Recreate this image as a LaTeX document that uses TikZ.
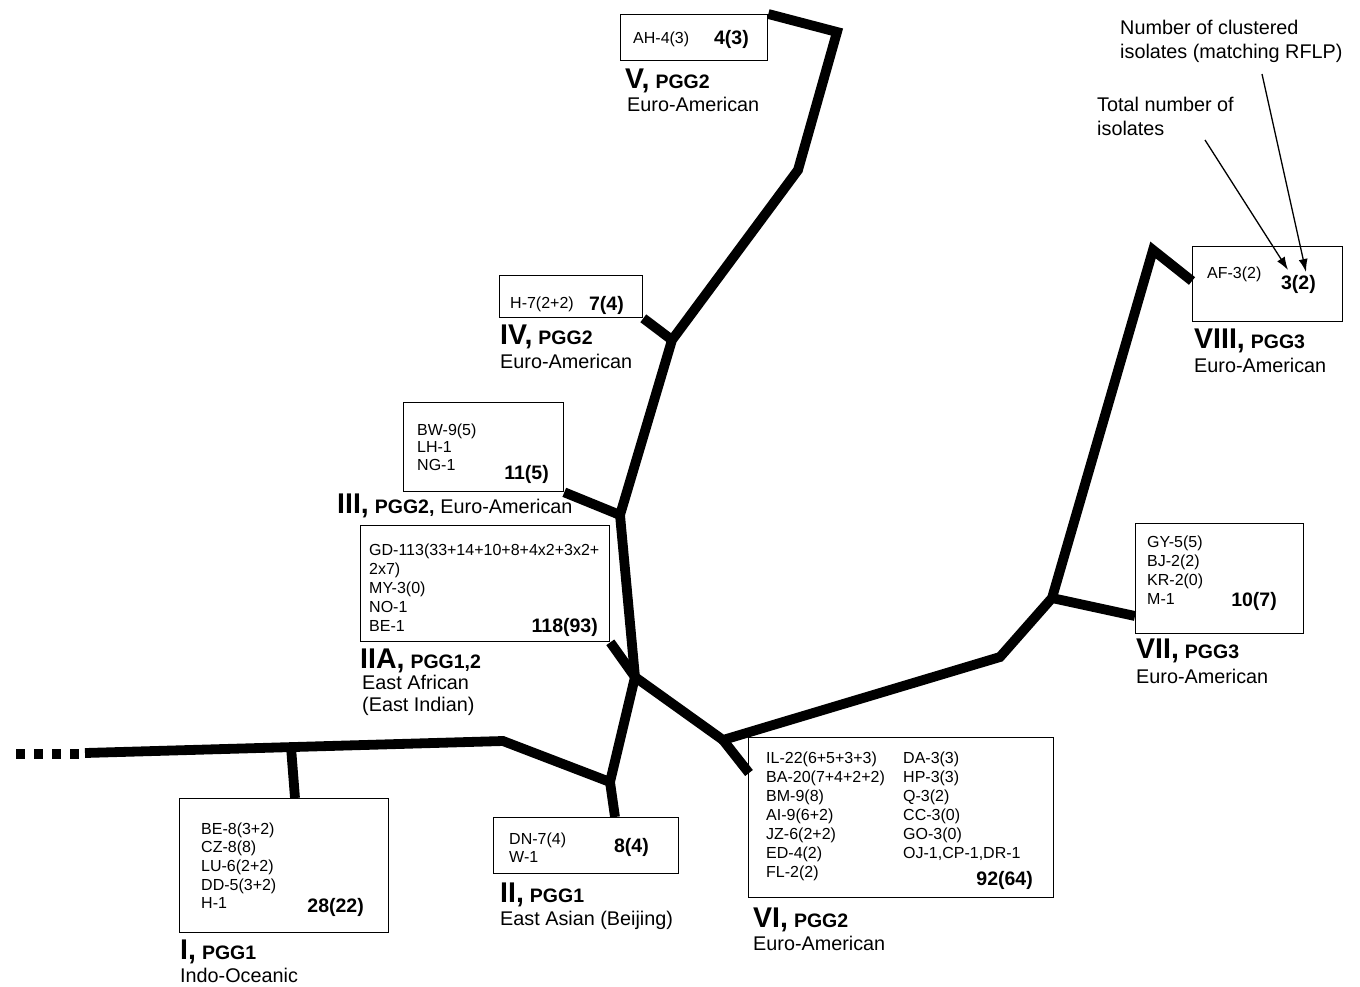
\documentclass[tikz,border=0pt]{standalone}
\usepackage{fontspec}
\setmainfont{Liberation Sans}
\usetikzlibrary{arrows.meta}
\newcommand\rnum[1]{{\fontsize{28.5}{30}\selectfont\bfseries #1}\hspace{6pt}}
\newcommand\pggx[1]{{\fontsize{19.5}{22}\selectfont\bfseries #1}}
\begin{document}
\begin{tikzpicture}[x=1pt,y=-1pt,
  tree/.style={line width=9.8pt, line cap=butt, line join=miter},
  box/.style={draw, line width=1.3pt, rectangle, inner sep=0pt, anchor=north west},
  small/.style={font=\fontsize{16}{19}\selectfont, anchor=base west, inner sep=0pt},
  tot/.style={font=\fontsize{19.5}{22}\selectfont\bfseries, anchor=base east, inner sep=0pt},
  lab/.style={anchor=base west, inner sep=0pt},
  sub/.style={font=\fontsize{19.8}{22}\selectfont, anchor=base west, inner sep=0pt},
  ann/.style={font=\fontsize{19.8}{24}\selectfont, anchor=base west, inner sep=0pt},
  pointer/.style={line width=1.3pt, -{Latex[length=13pt,width=9pt]}}]
\useasboundingbox (0,0) rectangle (1360,986);

% ---------- boxes ----------
\node[box, minimum width=147pt, minimum height=46pt] (bV) at (620,14) {};
\node[box, minimum width=143pt, minimum height=42pt] (bIV) at (499,275) {};
\node[box, minimum width=160pt, minimum height=89pt] (bIII) at (403,402) {};
\node[box, minimum width=249pt, minimum height=116pt] (bIIA) at (360,525) {};
\node[box, minimum width=209pt, minimum height=134pt] (bI) at (179,798) {};
\node[box, minimum width=185pt, minimum height=56pt] (bII) at (493,817) {};
\node[box, minimum width=305pt, minimum height=160pt] (bVI) at (748,737) {};
\node[box, minimum width=168pt, minimum height=110pt] (bVII) at (1135,523) {};
\node[box, minimum width=150pt, minimum height=75pt] (bVIII) at (1192,246) {};

% ---------- tree coordinates ----------
\coordinate (r0) at (16,754);
\coordinate (r0e) at (80,754);
\coordinate (r1) at (85,753);
\coordinate (k1) at (503,741);
\coordinate (jI) at (291,747);
\coordinate (jII) at (610,782);
\coordinate (jA) at (635,677);
\coordinate (jB) at (620,515);
\coordinate (jC) at (672,340);
\coordinate (k2) at (798,170);
\coordinate (k3) at (837,32);
\coordinate (jD) at (723,740);
\coordinate (k4) at (1000,657);
\coordinate (jE) at (1052,598);
\coordinate (k5) at (1153,250);
\coordinate (eI) at (295,798);
\coordinate (eII) at (615,817);
\coordinate (eVI) at (749,773);
\coordinate (eVII) at (1135,616);
\coordinate (eVIII) at (1192,281);

\draw[tree, dash pattern=on 9pt off 9pt] (r0) -- (r0e);
\draw[tree] (r1) -- (k1) -- (jII) -- (jA) -- (jB) -- (jC) -- (k2) -- (k3) -- (bV.north east);
\draw[tree] (jA) -- (jD) -- (k4) -- (jE) -- (k5) -- (eVIII);
\draw[tree] (jI) -- (eI);
\draw[tree] (jII) -- (eII);
\draw[tree] (jA) -- (bIIA.south east);
\draw[tree] (jB) -- (bIII.south east);
\draw[tree] (jC) -- (bIV.south east);
\draw[tree] (jD) -- (eVI);
\draw[tree] (jE) -- (eVII);
\foreach \j in {jII,jA,jB,jC,jD,jE}
  \fill (\j) circle (4.9pt);

% ---------- box contents ----------
\node[small] (tV) at (633,43) {AH-4(3)};
\node[tot] (nV) at (749,44) {4(3)};

\node[small] (tIV) at (510,308) {H-7(2+2)};
\node[tot] (nIV) at (624,310) {7(4)};

\foreach \t [count=\i] in {BW-9(5),LH-1,NG-1}
  \node[small, name=tIII\i] at (417,{435+(\i-1)*17.8}) {\t};
\node[tot] (nIII) at (549,479) {11(5)};

\foreach \t [count=\i] in {GD-113(33+14+10+8+4x2+3x2+,2x7),MY-3(0),NO-1,BE-1}
  \node[small, name=tIIA\i] at (369,{555+(\i-1)*19.2}) {\t};
\node[tot] (nIIA) at (598,632) {118(93)};

\foreach \t [count=\i] in {BE-8(3+2),CZ-8(8),LU-6(2+2),DD-5(3+2),H-1}
  \node[small, name=tI\i] at (201,{834+(\i-1)*18.7}) {\t};
\node[tot] (nI) at (364,912) {28(22)};

\node[small] (tII1) at (509,844) {DN-7(4)};
\node[small] (tII2) at (509,862) {W-1};
\node[tot] (nII) at (649,852) {8(4)};

\foreach \t [count=\i] in {IL-22(6+5+3+3),BA-20(7+4+2+2),BM-9(8),AI-9(6+2),JZ-6(2+2),ED-4(2),FL-2(2)}
  \node[small, name=tVIa\i] at (766,{763+(\i-1)*19}) {\t};
\foreach \t [count=\i] in {DA-3(3),HP-3(3),Q-3(2),CC-3(0),GO-3(0),{OJ-1,CP-1,DR-1}}
  \node[small, name=tVIb\i] at (903,{763+(\i-1)*19}) {\t};
\node[tot] (nVI) at (1033,885) {92(64)};

\foreach \t [count=\i] in {GY-5(5),BJ-2(2),KR-2(0),M-1}
  \node[small, name=tVII\i] at (1147,{547+(\i-1)*19}) {\t};
\node[tot] (nVII) at (1277,606) {10(7)};

\node[small] (tVIII) at (1207,278) {AF-3(2)};
\node[tot] (nVIII) at (1316,289) {3(2)};

% ---------- group labels ----------
\node[lab] (lV) at (625,88) {\rnum{V,}\pggx{PGG2}};
\node[sub] (sV) at (627,111) {Euro-American};
\node[lab] (lIV) at (500,344) {\rnum{IV,}\pggx{PGG2}};
\node[sub] (sIV) at (500,368) {Euro-American};
\node[lab] (lIII) at (337,513) {\rnum{III,}\pggx{PGG2,}\hspace{6pt}{\fontsize{19.8}{22}\selectfont Euro-American}};
\node[lab] (lIIA) at (360,668) {\rnum{IIA,}\pggx{PGG1,2}};
\node[sub] (sIIA1) at (362,689) {East African};
\node[sub] (sIIA2) at (362,711) {(East Indian)};
\node[lab] (lI) at (180,959) {\rnum{I,}\pggx{PGG1}};
\node[sub] (sI) at (180,982) {Indo-Oceanic};
\node[lab] (lII) at (500,902) {\rnum{II,}\pggx{PGG1}};
\node[sub] (sII) at (500,925) {East Asian (Beijing)};
\node[lab] (lVI) at (753,927) {\rnum{VI,}\pggx{PGG2}};
\node[sub] (sVI) at (753,950) {Euro-American};
\node[lab] (lVII) at (1136,658) {\rnum{VII,}\pggx{PGG3}};
\node[sub] (sVII) at (1136,683) {Euro-American};
\node[lab] (lVIII) at (1194,348) {\rnum{VIII,}\pggx{PGG3}};
\node[sub] (sVIII) at (1194,372) {Euro-American};

% ---------- annotation ----------
\node[ann] (a1) at (1120,34) {Number of clustered};
\node[ann] (a2) at (1120,58) {isolates (matching RFLP)};
\node[ann] (a3) at (1097,111) {Total number of};
\node[ann] (a4) at (1097,135) {isolates};
\coordinate (pa) at (1262,74);
\coordinate (pb) at (1205,140);
\coordinate (ha) at (1306,272);
\coordinate (hb) at (1288,270);
\draw[pointer] (pa) -- (ha);
\draw[pointer] (pb) -- (hb);
\end{tikzpicture}
\end{document}
